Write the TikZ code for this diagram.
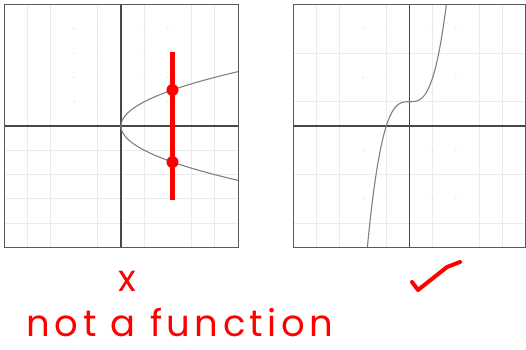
\documentclass[tikz,border=0pt]{standalone}
\usepackage{fontspec}
\newfontfamily\handfont[LetterSpace=12]{Poppins}
\tikzset{
  gridln/.style={draw=black!8, line width=0.9pt},
  griddot/.style={fill=black!14},
  frame/.style={draw=black!65, line width=0.9pt},
  axisln/.style={draw=black!72, line width=1.2pt},
  curveln/.style={draw=black!50, line width=1.1pt},
  redmark/.style={draw=red, line width=4pt, line cap=round, line join=round},
  reddot/.style={circle, fill=red, inner sep=0pt, minimum size=12pt},
  handtext/.style={text=red, font=\handfont\fontsize{37}{37}\selectfont, inner sep=0pt, text depth=0pt},
}
\begin{document}
\begin{tikzpicture}[x=1pt,y=-1pt]
\useasboundingbox (0,0) rectangle (526,349);
% left panel
\begin{scope}[shift={(121,126)},x=23.4pt,y=24.3pt]
  \foreach \i in {-4,-3,-1,1,3,4} \draw[gridln] (\i,-5) -- (\i,5);
  \foreach \j in {-1,-2,-3,-4} \draw[gridln] (-5,\j) -- (5,\j);
  \foreach \i in {-2,-1,1,2} \foreach \j in {1,2,3,4} \fill[griddot] (\i,\j) circle (0.8pt);
  \draw[axisln] (-5,0) -- (5,0);
  \draw[axisln] (0,-5) -- (0,5);
  \draw[curveln] plot[domain=-2.236:2.236, samples=80, smooth] ({\x*\x},\x);
  \draw[frame] (-5,-5) rectangle (5,5);
  \coordinate (vtop) at (2.2,3.05);
  \coordinate (vbot) at (2.2,-3.05);
  \draw[draw=red, line width=4.5pt] (vtop) -- (vbot);
  \node[reddot] (hitA) at (2.2,1.483) {};
  \node[reddot] (hitB) at (2.2,-1.483) {};
\end{scope}
% right panel
\begin{scope}[shift={(409.5,126)},x=23.2pt,y=24.3pt]
  \foreach \i in {-4,-3,-1,1,3,4} \draw[gridln] (\i,-5) -- (\i,5);
  \foreach \j in {3,1,-2,-4} \draw[gridln] (-5,\j) -- (5,\j);
  \foreach \i in {-2,-1,1,2} \foreach \j in {4,2,-1,-3} \fill[griddot] (\i,\j) circle (0.8pt);
  \draw[axisln] (-5,0) -- (5,0);
  \draw[axisln] (0,-5) -- (0,5);
  \draw[curveln] plot[domain=-1.817:1.587, samples=100, smooth] (\x,{\x*\x*\x+1});
  \draw[frame] (-5,-5) rectangle (5,5);
\end{scope}
% marks
\node[handtext, anchor=base] (cross) at (127,291) {x};
\node[handtext, anchor=base] (label) at (180,336) {not a function};
\coordinate (c1) at (412,282);
\coordinate (c2) at (418,290);
\coordinate (c3) at (433,279);
\coordinate (c4) at (447,267);
\coordinate (c5) at (460,262);
\draw[redmark] (c1) -- (c2) .. controls (c3) .. (c4) -- (c5);
\end{tikzpicture}
\end{document}
